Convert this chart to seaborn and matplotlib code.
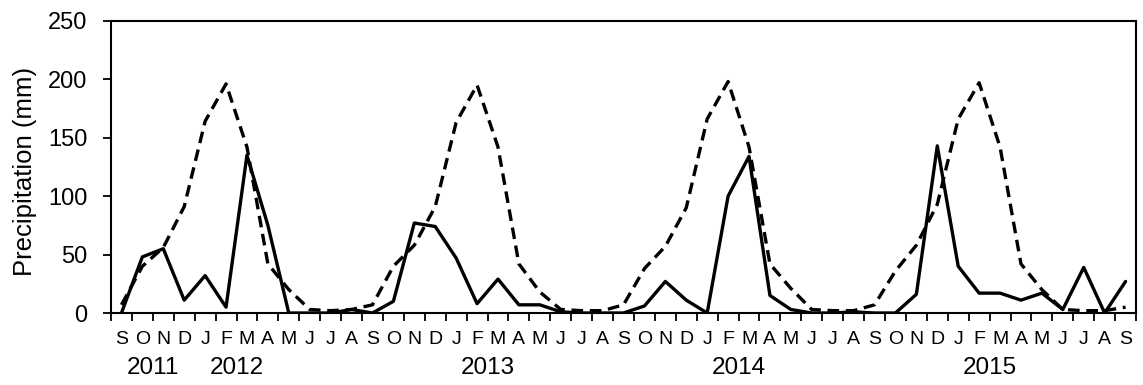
import numpy as np
import pandas as pd
import matplotlib
matplotlib.use("Agg")
import matplotlib.pyplot as plt
import matplotlib.transforms as mtransforms
import seaborn as sns

# ---- data ----
month_labels = ["S", "O", "N", "D",
                "J", "F", "M", "A", "M", "J", "J", "A", "S", "O", "N", "D",
                "J", "F", "M", "A", "M", "J", "J", "A", "S", "O", "N", "D",
                "J", "F", "M", "A", "M", "J", "J", "A", "S", "O", "N", "D",
                "J", "F", "M", "A", "M", "J", "J", "A", "S"]
year_labels = ["2011", "2012", "2013", "2014", "2015"]
year_positions = [1.5, 5.5, 17.5, 29.5, 41.5]

observed = [0, 48, 55, 11,
            32, 5, 135, 75, 0, 0, 0, 3, 0, 10, 77, 74,
            47, 8, 29, 7, 7, 1, 0, 0, 0, 6, 27, 11,
            0, 100, 134, 15, 3, 0, 0, 1, 0, 0, 16, 143,
            40, 17, 17, 11, 17, 3, 39, 0, 27]
mean_precip = [7, 40, 56, 91,
               164, 196, 142, 42, 20, 3, 2, 3, 7, 40, 58, 91,
               163, 195, 142, 42, 18, 3, 2, 2, 7, 38, 57, 90,
               166, 198, 142, 42, 21, 3, 2, 2, 7, 36, 58, 93,
               166, 197, 142, 42, 20, 3, 2, 2, 5]

idx = np.arange(len(month_labels))
df = pd.DataFrame({
    "idx": np.concatenate([idx, idx]),
    "value": observed + mean_precip,
    "series": ["Observed"] * len(idx) + ["Mean"] * len(idx),
})

sns.set_style("white")
plt.rcParams["font.family"] = ["Liberation Sans", "DejaVu Sans"]

fig = plt.figure(figsize=(11.43, 3.85), dpi=100)
ax = fig.add_axes([0.0971, 0.187, 0.8968, 0.759])

sns.lineplot(data=df, x="idx", y="value", style="series",
             dashes={"Observed": "", "Mean": (3.5, 2)},
             color="black", linewidth=2.4, legend=False, ax=ax)

ax.set_xlim(-0.5, len(idx) - 0.5)
ax.set_ylim(0, 250)
ax.set_yticks(np.arange(0, 251, 50))
ax.tick_params(axis="y", labelsize=17, length=6, width=1.3, direction="out",
               left=True, pad=11, colors="black")

# x: major ticks at boundaries, month labels at centres (minor)
ax.set_xticks(np.arange(-0.5, len(idx), 1.0))
ax.set_xticklabels([])
ax.set_xticks(idx, minor=True)
ax.set_xticklabels(month_labels, minor=True)
ax.tick_params(axis="x", which="major", length=6, width=1.3, direction="out",
               bottom=True, colors="black")
ax.tick_params(axis="x", which="minor", length=0, labelsize=14, pad=13,
               colors="black")

for s in ax.spines.values():
    s.set_color("black")
    s.set_linewidth(1.5)

ax.set_xlabel("")
ax.set_ylabel("Precipitation (mm)", fontsize=18.5, color="black")
ax.yaxis.set_label_coords(-0.072, 0.485)

trans = mtransforms.blended_transform_factory(ax.transData, ax.transAxes)
for lab, pos in zip(year_labels, year_positions):
    ax.text(pos, -0.187, lab, transform=trans, ha="center", va="center",
            fontsize=17.5, color="black")

fig.savefig("out.png", dpi=100)
